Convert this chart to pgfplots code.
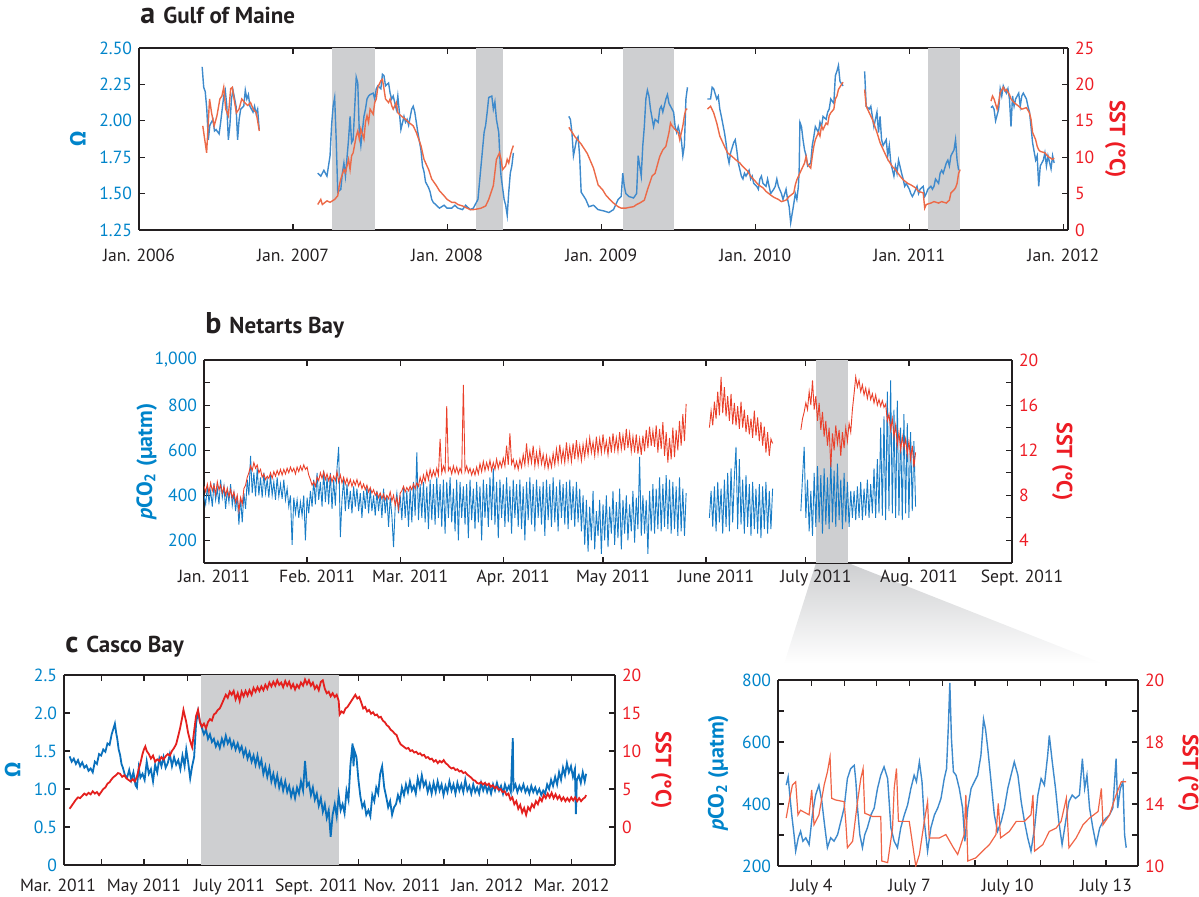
\documentclass[border=0pt]{standalone}
\usepackage{fontspec}
\setmainfont{PT Sans}
\newfontfamily\grk{Fira Sans}
\usepackage{pgfplots}
\pgfplotsset{compat=1.18}
\definecolor{tickBlue}{RGB}{0,132,202}
\definecolor{tickRed}{RGB}{237,28,36}
\definecolor{ink}{RGB}{35,31,32}
\definecolor{aBlue}{RGB}{62,138,204}
\definecolor{aOrange}{RGB}{236,106,72}
\definecolor{bBlue}{RGB}{24,124,198}
\definecolor{bRed}{RGB}{234,64,42}
\definecolor{cBlue}{RGB}{10,112,188}
\definecolor{cRed}{RGB}{228,32,30}
\definecolor{iRed}{RGB}{240,100,70}
\definecolor{shade}{RGB}{206,207,209}

\pgfplotsset{
  panel/.style={scale only axis, anchor=south west, unbounded coords=jump,
    axis line style={ink, line width=0.8pt},
    tick style={ink, line width=0.6pt}, tick align=inside,
    major tick length=3pt, minor tick length=3pt,
    tick label style={font=\fontsize{8.8}{10}\selectfont},
    x tick label style={text=ink},
    label style={font=\fontsize{11}{12}\selectfont\bfseries}},
  lefty/.style={panel, axis y line*=left, y tick label style={text=tickBlue},
    ylabel style={text=tickBlue}},
  righty/.style={panel, axis y line*=right, axis x line=none,
    y tick label style={text=tickRed}, ylabel style={text=tickRed, rotate=180}},
}

\begin{document}
\begin{tikzpicture}
\useasboundingbox (0,0) rectangle (599.5pt,448pt);

% zoom wedge from panel b down to the inset
\shade[top color=shade, bottom color=white] (408pt,166.5pt) -- (424pt,166.5pt) -- (552pt,116pt) -- (392pt,116pt) -- cycle;

% titles
\node[anchor=base west, text=ink, inner sep=0] at (70pt,436pt) {{\fontsize{15}{15}\selectfont\bfseries a}\hspace{4pt}{\fontsize{11.5}{12}\selectfont\bfseries Gulf of Maine}};
\node[anchor=base west, text=ink, inner sep=0] at (102.5pt,281pt) {{\fontsize{15}{15}\selectfont\bfseries b}\hspace{4pt}{\fontsize{11.5}{12}\selectfont\bfseries Netarts Bay}};
\node[anchor=base west, text=ink, inner sep=0] at (32.5pt,122pt) {{\fontsize{15}{15}\selectfont\bfseries c}\hspace{4pt}{\fontsize{11.5}{12}\selectfont\bfseries Casco Bay}};

% ---------------- panel a ----------------
\begin{axis}[lefty, at={(69.5pt,333pt)}, width=464.5pt, height=91pt,
  axis line style={line width=1pt},
  xmin=2006, xmax=2012.03, ymin=1.25, ymax=2.5,
  xtick={2006,2007,2008,2009,2010,2011,2012},
  xticklabels={Jan. 2006,Jan. 2007,Jan. 2008,Jan. 2009,Jan. 2010,Jan. 2011,Jan. 2012},
  x tick label style={yshift=-6pt},
  ytick={1.25,1.5,1.75,2,2.25,2.5}, yticklabels={1.25,1.50,1.75,2.00,2.25,2.50},
  ylabel={{\grk\bfseries Ω}}]
\addplot[fill=shade, draw=none, forget plot] coordinates {(2007.25,1.25) (2007.53,1.25) (2007.53,2.5) (2007.25,2.5)} -- cycle;
\addplot[fill=shade, draw=none, forget plot] coordinates {(2008.19,1.25) (2008.36,1.25) (2008.36,2.5) (2008.19,2.5)} -- cycle;
\addplot[fill=shade, draw=none, forget plot] coordinates {(2009.14,1.25) (2009.47,1.25) (2009.47,2.5) (2009.14,2.5)} -- cycle;
\addplot[fill=shade, draw=none, forget plot] coordinates {(2011.12,1.25) (2011.33,1.25) (2011.33,2.5) (2011.12,2.5)} -- cycle;
\addplot[aBlue, line width=0.7pt] coordinates {
(2006.41,2.37) (2006.42,2.23) (2006.43,2.20) (2006.44,2.08) (2006.45,1.87) (2006.46,1.97) (2006.48,2.01) (2006.49,1.93) (2006.50,1.94) (2006.52,1.91) (2006.53,1.99) (2006.54,2.08) (2006.55,2.17) (2006.56,2.21) (2006.57,2.10) (2006.58,1.87) (2006.59,1.97) (2006.60,2.15) (2006.61,2.21) (2006.63,2.10) (2006.64,1.87) (2006.65,2.01) (2006.66,2.08) (2006.68,2.10) (2006.69,2.21) (2006.70,2.15) (2006.71,2.18) (2006.72,2.10) (2006.74,2.06) (2006.75,2.10) (2006.76,2.05) (2006.77,2.08) (2006.78,1.94)
(2006.9,nan)
(2007.16,1.64) (2007.18,1.62) (2007.20,1.66) (2007.22,1.62) (2007.24,1.76) (2007.25,1.97) (2007.26,2.10) (2007.27,2.16) (2007.28,1.87) (2007.29,1.51) (2007.31,1.53) (2007.32,1.64) (2007.33,1.71) (2007.34,1.62) (2007.36,1.87) (2007.37,2.03) (2007.38,1.85) (2007.39,1.87) (2007.41,2.30) (2007.42,2.26) (2007.43,1.92) (2007.44,1.83) (2007.46,2.03) (2007.47,2.08) (2007.48,2.15) (2007.49,2.17) (2007.50,2.18) (2007.52,2.19) (2007.53,2.15) (2007.54,2.22) (2007.55,2.24) (2007.57,2.22) (2007.58,2.32) (2007.59,2.31) (2007.60,2.24) (2007.62,2.26) (2007.63,2.19) (2007.64,2.15) (2007.65,2.17) (2007.67,2.08) (2007.68,2.17) (2007.69,2.06) (2007.70,1.94) (2007.72,2.03) (2007.73,1.99) (2007.74,2.01) (2007.75,1.97) (2007.77,2.08) (2007.78,2.10) (2007.79,2.06) (2007.80,1.99) (2007.81,1.92) (2007.83,1.80) (2007.84,1.69) (2007.85,1.65) (2007.86,1.58) (2007.88,1.54) (2007.89,1.51) (2007.90,1.46) (2007.91,1.44) (2007.93,1.42) (2007.95,1.40) (2007.98,1.42) (2008.00,1.40) (2008.03,1.40) (2008.05,1.42) (2008.07,1.40) (2008.10,1.39) (2008.12,1.42) (2008.15,1.39) (2008.17,1.40) (2008.20,1.46) (2008.22,1.69) (2008.24,1.92) (2008.25,1.97) (2008.26,2.06) (2008.27,2.16) (2008.29,2.17) (2008.30,2.08) (2008.31,2.13) (2008.32,2.01) (2008.335,1.92) (2008.345,1.69) (2008.35,1.62) (2008.37,1.46) (2008.38,1.42) (2008.39,1.35) (2008.40,1.51) (2008.41,1.64) (2008.42,1.69) (2008.43,1.78)
(2008.6,nan)
(2008.79,2.03) (2008.80,2.01) (2008.81,1.92) (2008.82,1.76) (2008.84,1.87) (2008.85,1.89) (2008.86,1.76) (2008.87,1.51) (2008.90,1.46) (2008.92,1.41) (2008.95,1.42) (2008.98,1.39) (2009.02,1.38) (2009.05,1.37) (2009.08,1.39) (2009.11,1.46) (2009.13,1.48) (2009.14,1.64) (2009.15,1.55) (2009.16,1.50) (2009.18,1.48) (2009.21,1.47) (2009.23,1.50) (2009.24,1.76) (2009.26,1.62) (2009.27,1.83) (2009.28,1.96) (2009.29,2.15) (2009.30,2.21) (2009.31,2.17) (2009.32,2.08) (2009.34,1.96) (2009.35,2.01) (2009.37,1.99) (2009.38,2.08) (2009.39,2.10) (2009.40,2.06) (2009.42,2.15) (2009.43,2.18) (2009.44,2.12) (2009.45,2.10) (2009.47,2.06) (2009.48,1.96) (2009.49,1.92) (2009.50,1.96) (2009.52,1.87) (2009.53,1.76) (2009.54,1.83) (2009.55,2.15) (2009.56,2.23)
(2009.62,nan)
(2009.69,2.15) (2009.71,2.15) (2009.72,2.23) (2009.73,2.22) (2009.75,2.15) (2009.76,2.17) (2009.77,2.08) (2009.78,2.03) (2009.80,1.92) (2009.81,1.85) (2009.82,1.76) (2009.83,1.71) (2009.84,1.78) (2009.86,1.85) (2009.87,1.87) (2009.88,1.80) (2009.89,1.71) (2009.91,1.62) (2009.92,1.60) (2009.93,1.64) (2009.94,1.62) (2009.96,1.66) (2009.97,1.60) (2009.98,1.62) (2009.99,1.57) (2010.01,1.55) (2010.02,1.53) (2010.03,1.60) (2010.04,1.62) (2010.05,1.57) (2010.07,1.55) (2010.08,1.60) (2010.09,1.55) (2010.10,1.50) (2010.12,1.53) (2010.13,1.55) (2010.14,1.60) (2010.15,1.55) (2010.17,1.50) (2010.18,1.46) (2010.20,1.53) (2010.21,1.46) (2010.22,1.41) (2010.23,1.30) (2010.25,1.43) (2010.26,1.50) (2010.27,1.46) (2010.28,1.55) (2010.285,1.66) (2010.29,1.99) (2010.30,1.96) (2010.31,1.87) (2010.32,1.80) (2010.33,1.76) (2010.34,1.69) (2010.36,1.71) (2010.37,1.83) (2010.38,1.89) (2010.39,1.96) (2010.41,1.92) (2010.42,1.99) (2010.43,1.96) (2010.44,2.03) (2010.46,2.01) (2010.47,2.06) (2010.48,2.08) (2010.49,2.15) (2010.51,2.12) (2010.52,2.31) (2010.53,2.34) (2010.54,2.38) (2010.55,2.27) (2010.57,2.24)
(2010.64,nan)
(2010.71,2.34) (2010.715,2.22) (2010.72,2.10) (2010.74,2.08) (2010.75,2.10) (2010.76,2.03) (2010.77,1.96) (2010.79,2.06) (2010.80,1.92) (2010.81,2.03) (2010.82,1.87) (2010.83,1.83) (2010.85,1.87) (2010.86,1.76) (2010.87,1.83) (2010.88,1.71) (2010.90,1.62) (2010.91,1.69) (2010.92,1.64) (2010.93,1.73) (2010.95,1.64) (2010.96,1.60) (2010.97,1.55) (2010.98,1.57) (2011.00,1.53) (2011.01,1.50) (2011.02,1.48) (2011.03,1.50) (2011.05,1.55) (2011.06,1.50) (2011.07,1.53) (2011.09,1.55) (2011.10,1.48) (2011.11,1.50) (2011.12,1.53) (2011.14,1.55) (2011.15,1.53) (2011.16,1.55) (2011.17,1.60) (2011.19,1.57) (2011.20,1.64) (2011.21,1.66) (2011.22,1.64) (2011.24,1.71) (2011.25,1.73) (2011.26,1.69) (2011.27,1.76) (2011.29,1.80) (2011.30,1.87) (2011.31,1.73) (2011.32,1.66)
(2011.42,nan)
(2011.53,2.09) (2011.54,2.10) (2011.55,2.08) (2011.56,2.00) (2011.58,2.08) (2011.59,2.22) (2011.60,2.17) (2011.61,2.24) (2011.63,2.19) (2011.64,2.22) (2011.65,2.15) (2011.66,1.96) (2011.67,2.17) (2011.68,2.10) (2011.69,2.15) (2011.71,2.19) (2011.72,2.10) (2011.73,2.17) (2011.74,2.19) (2011.76,2.15) (2011.77,2.10) (2011.78,2.06) (2011.79,1.96) (2011.80,1.85) (2011.82,1.73) (2011.83,1.76) (2011.84,1.55) (2011.85,1.69) (2011.87,1.73) (2011.88,1.78) (2011.89,1.69) (2011.90,1.76) (2011.92,1.67) (2011.93,1.76) (2011.94,1.71)
};
\end{axis}
\begin{axis}[righty, at={(69.5pt,333pt)}, width=464.5pt, height=91pt,
  axis line style={line width=1pt},
  xmin=2006, xmax=2012.03, ymin=0, ymax=25,
  ytick={0,5,10,15,20,25}, yticklabels={0,5,10,15,20,25},
  ylabel={SST (°C)}, ylabel shift=-1.5pt]
\addplot[aOrange, line width=0.7pt] coordinates {
(2006.414,14.3) (2006.439,10.6) (2006.458,18.0) (2006.471,16.1) (2006.488,14.3) (2006.506,15.7) (2006.525,18.0) (2006.538,18.4) (2006.550,19.6) (2006.563,16.6) (2006.580,15.7) (2006.595,19.4) (2006.605,19.6) (2006.617,18.0) (2006.632,16.1) (2006.649,16.6) (2006.667,18.0) (2006.686,17.5) (2006.706,17.1) (2006.724,17.5) (2006.741,16.6) (2006.761,16.1) (2006.781,13.6)
(2006.9,nan)
(2007.16,3.5) (2007.18,4.2) (2007.19,3.5) (2007.22,4.0) (2007.24,3.8) (2007.27,4.2) (2007.29,4.7) (2007.30,6.1) (2007.31,7.0) (2007.33,8.3) (2007.34,7.9) (2007.36,9.7) (2007.37,8.3) (2007.38,10.2) (2007.39,10.6) (2007.41,12.9) (2007.42,13.6) (2007.43,12.5) (2007.44,13.9) (2007.46,12.5) (2007.47,14.8) (2007.48,15.7) (2007.49,14.8) (2007.50,16.6) (2007.52,15.9) (2007.53,17.5) (2007.54,18.0) (2007.55,19.6) (2007.57,20.5) (2007.58,20.7) (2007.59,19.4) (2007.60,18.0) (2007.62,17.5) (2007.63,18.0) (2007.64,17.1) (2007.65,16.6) (2007.67,17.5) (2007.68,16.1) (2007.70,15.7) (2007.73,15.2) (2007.75,14.8) (2007.78,14.3) (2007.80,13.4) (2007.83,11.6) (2007.85,9.7) (2007.88,8.3) (2007.90,7.0) (2007.93,6.1) (2007.95,5.4) (2007.98,4.7) (2008.00,4.2) (2008.03,3.8) (2008.05,3.8) (2008.07,3.5) (2008.10,3.3) (2008.12,3.1) (2008.15,2.8) (2008.17,2.8) (2008.20,2.9) (2008.22,3.0) (2008.25,3.3) (2008.27,4.2) (2008.30,6.1) (2008.32,9.7) (2008.34,10.6) (2008.35,9.7) (2008.36,8.3) (2008.38,8.8) (2008.39,9.7) (2008.40,9.2) (2008.41,10.2) (2008.42,11.0) (2008.43,11.6)
(2008.6,nan)
(2008.79,14.1) (2008.83,12.8) (2008.87,11.8) (2008.91,10.5) (2008.95,8.5) (2008.98,6.2) (2009.01,5.5) (2009.03,4.8) (2009.06,4.1) (2009.08,3.7) (2009.11,3.2) (2009.13,3.0) (2009.16,3.0) (2009.18,3.1) (2009.21,3.2) (2009.23,3.5) (2009.25,3.7) (2009.28,4.1) (2009.30,5.5) (2009.33,7.4) (2009.35,7.8) (2009.38,10.1) (2009.40,11.0) (2009.42,11.5) (2009.44,13.4) (2009.45,14.7) (2009.46,14.3) (2009.48,13.8) (2009.50,13.4) (2009.51,12.4) (2009.53,14.3) (2009.54,15.7) (2009.55,16.6) (2009.56,16.6)
(2009.62,nan)
(2009.69,16.6) (2009.71,17.0) (2009.73,16.1) (2009.75,14.7) (2009.77,12.9) (2009.80,11.5) (2009.82,10.6) (2009.85,10.1) (2009.87,9.7) (2009.90,9.2) (2009.92,8.7) (2009.95,8.1) (2009.97,7.4) (2010.00,6.7) (2010.02,6.2) (2010.05,5.8) (2010.07,5.3) (2010.10,4.8) (2010.12,4.5) (2010.15,4.2) (2010.17,3.9) (2010.20,4.1) (2010.22,4.6) (2010.25,5.1) (2010.26,6.2) (2010.27,6.9) (2010.30,8.3) (2010.32,9.2) (2010.33,10.1) (2010.34,9.0) (2010.36,8.5) (2010.37,10.1) (2010.38,11.5) (2010.39,12.4) (2010.41,13.4) (2010.42,12.9) (2010.43,14.3) (2010.44,13.8) (2010.46,14.7) (2010.47,14.5) (2010.48,15.7) (2010.49,16.1) (2010.51,16.6) (2010.52,18.0) (2010.53,18.4) (2010.54,19.3) (2010.56,20.0) (2010.57,20.3)
(2010.64,nan)
(2010.71,19.3) (2010.72,17.0) (2010.74,16.1) (2010.76,15.2) (2010.79,13.4) (2010.81,12.0) (2010.84,10.6) (2010.86,9.7) (2010.89,8.7) (2010.91,8.3) (2010.94,7.4) (2010.96,6.9) (2010.99,6.4) (2011.01,6.2) (2011.04,5.8) (2011.06,5.3) (2011.09,5.1) (2011.10,3.0) (2011.11,3.5) (2011.14,3.7) (2011.16,3.9) (2011.19,3.7) (2011.21,3.9) (2011.24,3.7) (2011.26,4.1) (2011.27,5.1) (2011.29,5.5) (2011.30,5.8) (2011.31,6.4) (2011.32,7.8) (2011.33,8.3)
(2011.42,nan)
(2011.53,17.7) (2011.54,18.4) (2011.55,18.0) (2011.57,16.6) (2011.58,17.5) (2011.59,18.9) (2011.61,19.6) (2011.62,19.1) (2011.63,19.3) (2011.65,18.6) (2011.66,18.0) (2011.68,17.5) (2011.71,17.0) (2011.73,16.6) (2011.76,16.8) (2011.78,16.1) (2011.79,15.2) (2011.80,13.4) (2011.82,12.4) (2011.83,11.5) (2011.84,11.0) (2011.85,10.8) (2011.88,10.6) (2011.90,10.1) (2011.93,9.7) (2011.94,9.9)
};
\end{axis}

% ---------------- panel b ----------------
\begin{axis}[lefty, at={(102pt,166.5pt)}, width=404pt, height=101.5pt,
  xmin=0, xmax=243, ymin=100, ymax=1000,
  xtick={0,31,59,90,120,151,181,212,243},
  xticklabels={Jan. 2011,Feb. 2011,Mar. 2011,Apr. 2011,May 2011,June 2011,July 2011,Aug. 2011,Sept. 2011},
  x tick label style={xshift=5pt},
  ytick={200,400,600,800,1000}, yticklabels={200,400,600,800,{1,000}},
  minor ytick={300,500,700,900},
  ylabel={\textit{p}CO\textsubscript{2} (µatm)}, ylabel shift=-8pt]
\addplot[fill=shade, draw=none, forget plot] coordinates {(184,100) (193.7,100) (193.7,1000) (184,1000)} -- cycle;
\addplot[bBlue, line width=0.45pt] coordinates {
(0,400) (0.5,360) (1,440) (1.5,370) (2,420) (2.5,350) (3,455) (3.5,380) (4,430) (4.5,360) (5,470) (5.5,390) (6,440) (6.5,340) (7,425) (7.5,370) (8,450) (8.5,355) (9,410) (9.5,330) (10,400) (10.5,270) (11,390) (11.5,280) (12,410) (12.5,340) (13,470)
(13.5,400) (14,575) (14.5,410) (15,500) (15.5,395) (16,520) (16.5,400) (17,480) (17.5,390) (18,500) (18.5,410) (19,470) (19.5,390) (20,490) (20.5,400) (21,460) (21.5,380) (22,480) (22.5,395) (23,450) (23.5,385) (24,470) (24.5,380) (25,430) (25.5,350)
(26,400) (26.5,180) (27,390) (27.5,320) (28,380) (28.5,300) (29,370) (29.5,310) (30,400) (30.5,200) (31,390) (31.5,320) (32,420)
(32.5,350) (33,470) (33.5,360) (34,500) (34.5,380) (35,460) (35.5,350) (36,510) (36.5,370) (37,480) (37.5,360) (38,500) (38.5,340) (39,470) (39.5,355) (40,520) (40.5,615) (41,215) (41.5,380) (42,470)
(42.5,330) (43,450) (43.5,340) (44,420) (44.5,320) (45,440) (45.5,350) (46,430) (46.5,330) (47,410) (47.5,300) (48,420) (48.5,340) (49,440) (49.5,320) (50,430) (50.5,330) (51,400) (51.5,310) (52,420) (52.5,330) (53,410) (53.5,300) (54,430) (54.5,320) (55,400) (55.5,260) (56,390) (56.5,310) (57,170) (57.5,350) (58,410) (58.5,320) (59,400)
(59.5,290) (60,440) (60.5,300) (61,420) (61.5,260) (62,430) (62.5,280) (63,460) (63.5,310) (64,590) (64.5,290) (65,450) (65.5,300) (66,460) (66.5,280) (67,440) (67.5,250) (68,470) (68.5,290) (69,450) (69.5,270) (70,480) (70.5,300) (71,450) (71.5,260) (72,470) (72.5,230) (73,460) (73.5,300) (74,480) (74.5,280) (75,430) (75.5,240) (76,470) (76.5,200) (77,460) (77.5,300) (78,440) (78.5,270) (79,450) (79.5,210) (80,470) (80.5,290) (81,430) (81.5,250) (82,460) (82.5,280) (83,440) (83.5,200) (84,470) (84.5,300) (85,450) (85.5,260) (86,480) (86.5,290) (87,520) (87.5,270) (88,460) (88.5,210) (89,470) (89.5,300) (90,450) (90.5,260) (91,480) (91.5,280) (92,440) (92.5,230) (93,470) (93.5,300) (94,450) (94.5,260) (95,470) (95.5,250) (96,440) (96.5,200) (97,460) (97.5,290) (98,480) (98.5,270) (99,450) (99.5,240) (100,470) (100.5,300) (101,440) (101.5,270) (102,460) (102.5,220) (103,470) (103.5,290) (104,450) (104.5,260) (105,480) (105.5,280) (106,440) (106.5,240) (107,470) (107.5,300) (108,450) (108.5,270) (109,460) (109.5,250) (110,470) (110.5,290) (111,440) (111.5,260) (112,460) (112.5,280) (113,430) (113.5,240) (114,400)
(114.5,180) (115,380) (115.5,150) (116,350) (116.5,200) (117,420) (117.5,160) (118,330) (118.5,220) (119,380) (119.5,140) (120,360) (120.5,200) (121,400) (121.5,170) (122,350) (122.5,230) (123,420) (123.5,180) (124,370) (124.5,210) (125,430) (125.5,160) (126,380) (126.5,230) (127,400) (127.5,200) (128,360) (128.5,240) (129,420) (129.5,190) (130,390) (130.5,250) (131,570) (131.5,220) (132,400) (132.5,230) (133,380) (133.5,140) (134,420) (134.5,240) (135,450) (135.5,230) (136,430) (136.5,250) (137,480) (137.5,240) (138,450) (138.5,260) (139,490) (139.5,250) (140,470) (140.5,230) (141,460) (141.5,250) (142,440) (142.5,220) (143,480) (143.5,240) (144,430) (144.5,220) (145,410)
(148,nan)
(152,300) (152.5,420) (153,260) (153.5,440) (154,240) (154.5,460) (155,280) (155.5,430) (156,230) (156.5,470) (157,260) (157.5,500) (158,240) (158.5,520) (159,280) (159.5,480) (160,615) (160.5,250) (161,560) (161.5,270) (162,470) (162.5,230) (163,490) (163.5,260) (164,450) (164.5,220) (165,460) (165.5,250) (166,430) (166.5,230) (167,450) (167.5,210) (168,440) (168.5,250) (169,460) (169.5,230) (170,420) (170.5,250) (171,430)
(175,nan)
(179.5,330) (180,480) (180.5,615) (181,300) (181.5,470) (182,240) (182.5,420) (183,220) (183.5,500) (184,260) (184.5,530) (185,280) (185.5,490) (186,230) (186.5,520) (187,270) (187.5,480) (188,250) (188.5,560) (189,280) (189.5,510) (190,260) (190.5,540) (191,290) (191.5,470) (192,250) (192.5,500) (193,280) (193.5,460) (194,260) (194.5,420) (195,300)
(195.5,420) (196,290) (196.5,440) (197,300) (197.5,460) (198,290) (198.5,430) (199,310) (199.5,470) (200,300) (200.5,450) (201,320) (201.5,520) (202,300) (202.5,560) (203,320) (203.5,700) (204,310) (204.5,750) (205,290) (205.5,860) (206,330) (206.5,910) (207,320) (207.5,780) (208,300) (208.5,820) (209,310) (209.5,700) (210,290) (210.5,760) (211,320) (211.5,720) (212,300) (212.5,680) (213,330) (213.5,640) (214,350)
};
\end{axis}
\begin{axis}[righty, at={(102pt,166.5pt)}, width=404pt, height=101.5pt,
  xmin=0, xmax=243, ymin=2, ymax=20,
  ytick={4,8,12,16,20}, yticklabels={4,8,12,16,20}, minor ytick={6,10,14,18},
  ylabel={SST (°C)}]
\addplot[bRed, line width=0.45pt] coordinates {
(0,8.8) (0.5,8.3) (1,9.0) (1.5,8.2) (2,9.1) (2.5,8.4) (3,8.9) (3.5,8.1) (4,9.2) (4.5,8.5) (5,8.9) (5.5,8.2) (6,8.8) (6.5,8.0) (7,8.6) (7.5,7.9) (8,8.5) (8.5,7.8) (9,8.3) (9.5,7.4) (10,8.0) (10.5,6.6) (11,7.8) (11.5,7.2) (12,8.6) (12.5,8.9) (13,9.6) (13.5,10.0) (14,10.6) (14.5,10.2) (15,10.9) (15.5,10.4) (16,10.7) (16.5,10.0) (17,10.3) (17.5,9.6) (18,9.9) (18.5,9.4) (19,9.7) (19.5,9.5) (20,10.0) (20.5,9.5) (21,10.1) (21.5,9.7) (22,10.2) (22.5,9.8) (23,10.3) (23.5,9.8) (24,10.3) (24.5,9.9) (25,10.4) (25.5,10.0) (26,10.5) (26.5,10.1) (27,10.4) (27.5,9.9) (28,10.5) (28.5,10.1) (29,10.6) (29.5,10.2) (30,10.7) (30.5,10.3) (31,10.5) (31.5,9.8) (32,9.4) (32.5,8.9) (33,9.2) (33.5,8.8) (34,9.6) (34.5,9.3) (35,10.0) (35.5,9.5) (36,10.1) (36.5,9.4) (37,9.9) (37.5,9.3) (38,9.8) (38.5,9.2) (39,9.7) (39.5,9.3) (40,10.1) (40.5,9.2) (41,9.8) (41.5,9.1) (42,9.6) (42.5,9.0) (43,9.5) (43.5,8.9) (44,9.4) (44.5,8.8) (45,9.3) (45.5,8.9) (46,9.4) (46.5,8.8) (47,9.2) (47.5,8.6) (48,9.0) (48.5,8.5) (49,8.9) (49.5,8.3) (50,8.7) (50.5,8.2) (51,8.5) (51.5,8.0) (52,8.3) (52.5,7.8) (53,8.2) (53.5,7.7) (54,8.1) (54.5,7.6) (55,8.0) (55.5,7.7) (56,8.3) (56.5,7.5) (57,8.0) (57.5,7.1) (58,7.8) (58.5,6.8) (59,8.2) (59.5,8.4)
(60,8.8) (60.5,8.3) (61,8.7) (61.5,8.4) (62,8.8) (62.5,8.5) (63,9.0) (63.5,8.6) (64,9.1) (64.5,8.8) (65,9.6) (65.5,9.0) (66,9.8) (66.5,9.2) (67,10.1) (67.5,9.4) (68,10.3) (68.5,9.6) (69,10.2) (69.5,9.7) (70,10.4) (70.5,9.8) (71,13.0) (71.5,10.0) (72,10.6) (72.5,10.1) (73,15.9) (73.5,10.2) (74,10.5) (74.5,9.9) (75,10.6) (75.5,10.0) (76,10.5) (76.5,9.9) (77,10.4) (77.5,10.0) (78,17.8) (78.5,10.1) (79,10.6) (79.5,10.0) (80,10.4) (80.5,9.8) (81,10.3) (81.5,9.8) (82,10.5) (82.5,9.9) (83,10.8) (83.5,10.1) (84,11.0) (84.5,10.2) (85,10.9) (85.5,10.3) (86,11.1) (86.5,10.2) (87,10.9) (87.5,10.3) (88,11.2) (88.5,10.4) (89,11.0) (89.5,10.5) (90,11.3) (90.5,10.6) (91,12.4) (91.5,10.7) (92,13.5) (92.5,10.8) (93,11.2) (93.5,10.4) (94,11.0) (94.5,10.3) (95,11.2) (95.5,10.5) (96,11.6) (96.5,10.7) (97,12.6) (97.5,10.8) (98,11.9) (98.5,10.9) (99,12.4) (99.5,10.6) (100,11.8) (100.5,10.7) (101,12.1) (101.5,10.8) (102,11.6) (102.5,10.5) (103,11.5) (103.5,10.4) (104,11.3) (104.5,10.5) (105,11.7) (105.5,10.7) (106,12.1) (106.5,10.9) (107,12.5) (107.5,11.0) (108,12.0) (108.5,10.9) (109,12.7) (109.5,11.1) (110,12.3) (110.5,11.0) (111,12.6) (111.5,11.2) (112,12.9) (112.5,11.3) (113,12.4) (113.5,11.1) (114,12.5) (114.5,11.4) (115,12.8) (115.5,11.6) (116,13.1) (116.5,11.8) (117,12.7) (117.5,11.5) (118,13.2) (118.5,11.7) (119,13.0) (119.5,11.8) (120,13.4) (120.5,11.9) (121,12.8) (121.5,11.6) (122,13.2) (122.5,11.8) (123,13.5) (123.5,12.0) (124,13.1) (124.5,11.9) (125,13.6) (125.5,12.1) (126,13.3) (126.5,12.0) (127,13.9) (127.5,12.2) (128,13.5) (128.5,11.9) (129,13.2) (129.5,11.8) (130,13.4) (130.5,11.7) (131,13.0) (131.5,11.6) (132,13.3) (132.5,11.9) (133,13.8) (133.5,12.2) (134,14.1) (134.5,12.4) (135,13.7) (135.5,12.3) (136,14.2) (136.5,11.8) (137,13.9) (137.5,12.1) (138,14.5) (138.5,11.5) (139,13.6) (139.5,10.9) (140,13.1) (140.5,11.2) (141,14.0) (141.5,11.4) (142,13.8) (142.5,12.0) (143,14.6) (143.5,12.4) (144,15.2) (144.5,12.8) (145,16.1)
(148,nan)
(152,14.0) (152.5,15.5) (153,14.2) (153.5,16.3) (154,14.8) (154.5,17.2) (155,15.1) (155.5,18.5) (156,15.3) (156.5,17.6) (157,15.0) (157.5,16.8) (158,14.6) (158.5,17.0) (159,14.3) (159.5,16.2) (160,14.2) (160.5,15.9) (161,13.9) (161.5,16.3) (162,14.0) (162.5,15.6) (163,13.6) (163.5,15.1) (164,13.4) (164.5,14.8) (165,13.1) (165.5,15.5) (166,13.3) (166.5,14.9) (167,12.8) (167.5,14.5) (168,12.4) (168.5,14.1) (169,11.8) (169.5,13.6) (170,11.5) (170.5,13.0) (171,12.6)
(175,nan)
(179.5,13.8) (180,14.8) (180.5,15.4) (181,16.2) (181.5,15.6) (182,17.2) (182.5,16.0) (183,18.2) (183.5,15.6) (184,16.8) (184.5,14.6) (185,16.2) (185.5,13.8) (186,15.4) (186.5,13.2) (187,14.6) (187.5,12.4) (188,14.0) (188.5,10.5) (189,13.5) (189.5,12.0) (190,14.2) (190.5,12.6) (191,13.8) (191.5,11.5) (192,13.6) (192.5,12.2) (193,14.0) (193.5,12.8) (194,14.4) (194.5,13.6) (195,15.6) (195.5,17.0) (196,18.5) (196.5,17.6) (197,18.2) (197.5,17.2) (198,17.8) (198.5,16.9) (199,17.5) (199.5,16.6) (200,17.4) (200.5,16.5) (201,17.0) (201.5,16.2) (202,16.9) (202.5,16.0) (203,16.5) (203.5,15.9) (204,16.4) (204.5,15.8) (205,16.1) (205.5,14.6) (206,15.2) (206.5,13.8) (207,14.8) (207.5,13.2) (208,14.2) (208.5,12.4) (209,13.6) (209.5,12.0) (210,13.2) (210.5,12.2) (211,13.0) (211.5,11.6) (212,12.8) (212.5,11.2) (213,12.4) (213.5,10.5) (214,11.8)
};
\end{axis}

% ---------------- panel c, left ----------------
\begin{axis}[lefty, at={(32pt,15.5pt)}, width=275.5pt, height=95pt,
  xmin=4, xmax=397, ymin=0, ymax=2.5,
  xtick={4,61,122,184,245,306,366},
  xticklabels={\makebox[0pt]{Mar. 2011\hspace{6pt}},May 2011,July 2011,Sept. 2011,Nov. 2011,Jan. 2012,Mar. 2012},
  x tick label style={yshift=-3.5pt},
  minor xtick={31,92,153,214,275,337,397},
  ytick={0,0.5,1,1.5,2,2.5}, yticklabels={0,0.5,1.0,1.5,2.0,2.5},
  ylabel={{\grk\bfseries Ω}}]
\addplot[fill=shade, draw=none, forget plot] coordinates {(102,0) (200,0) (200,2.5) (102,2.5)} -- cycle;
\addplot[cBlue, line width=0.9pt] coordinates {
(8,1.43) (9.5,1.36) (11,1.40) (12.5,1.33) (14,1.38) (15.5,1.30) (17,1.35) (18.5,1.28) (20,1.31) (21.5,1.24) (23,1.27) (24.5,1.22) (26,1.36) (27.5,1.33) (29,1.46) (30.5,1.44) (32,1.52) (33.5,1.49) (35,1.60) (36.5,1.58) (38,1.72) (39,1.78) (40.3,1.86) (41.2,1.74) (42,1.66) (43,1.52) (44,1.45) (45,1.33) (46,1.28) (47.5,1.18) (49,1.15) (50.5,1.25) (52,1.12) (53.5,1.22) (55,1.05) (56,1.02) (57.3,1.28) (58.5,1.15) (60,1.20) (61.5,1.12) (63,1.36) (64.5,1.20) (66,1.26) (67.5,1.10) (69,1.32) (70.5,1.22) (72,1.40) (73.5,1.30) (75,1.42) (76.5,1.28) (78,1.34) (79.5,1.46) (81,1.30) (82.5,1.42) (84,1.32) (85.5,1.38) (87,1.26) (88.5,1.44) (90,1.30) (91.2,1.52) (92.5,1.36) (94,1.14) (95.4,1.30) (96.8,1.42) (98.2,1.86) (99.6,2.02) (101,1.88) (102.4,1.80) (103.8,1.72) (105.3,1.78) (106.7,1.66) (108.1,1.72) (109.5,1.62) (110.9,1.66) (112.3,1.56) (113.7,1.62) (115.1,1.54) (116.6,1.66) (118,1.58) (119.4,1.70) (120.8,1.60) (122.2,1.66) (123.6,1.55) (125,1.62) (126.4,1.52) (127.9,1.60) (129.3,1.50) (130.7,1.56) (132.1,1.44) (133.5,1.52) (134.9,1.40) (136.3,1.48) (137.8,1.36) (139.2,1.44) (140.6,1.32) (142,1.44) (143.4,1.30) (144.8,1.38) (146.2,1.20) (147.6,1.30) (149,1.16) (150.5,1.28) (151.9,1.10) (153.3,1.20) (154.7,1.06) (156.1,1.18) (157.5,1.02) (158.9,1.12) (160.3,0.98) (161.8,1.10) (163.2,0.96) (164.6,1.04) (166,0.90) (167.4,1.00) (168.8,0.88) (170.2,1.02) (171.6,0.94) (173,1.10) (174.5,0.98) (175.9,1.37) (177.3,1.04) (178.7,1.08) (180.1,0.92) (181.5,1.02) (182.9,0.86) (184.3,0.94) (185.7,0.78) (187.2,0.88) (188.6,0.70) (190,0.80) (191.4,0.62) (192.8,0.72) (194.2,0.37) (195.6,0.66) (197.1,0.80) (198.5,0.64) (199.9,0.92) (201.3,0.72) (202.7,0.80) (204.1,0.68) (205.5,0.98) (206.9,0.86) (208.3,1.32) (209.8,1.60) (210.5,1.30) (211.2,1.50) (212.6,1.42) (214,1.12) (215.4,0.90) (216.8,0.76) (218.2,0.82) (219.6,0.66) (221.1,0.72) (222.5,0.64) (223.9,0.92) (225.3,0.84) (226.7,1.02) (228.1,0.94) (229.5,1.20) (230.9,1.30) (232.4,1.02) (233.8,0.90) (235.2,0.76) (236.6,0.84) (238,0.66) (239.4,0.76) (240.8,0.80) (242.2,0.92) (243.6,0.84) (245,1.02) (246.5,0.92) (247.9,1.06) (249.3,0.96) (250.7,1.10) (252.1,0.98) (253.5,1.04) (254.9,0.94) (256.3,1.14) (257.8,1.02) (259.2,1.18) (260.6,1.04) (262,1.10) (263.4,0.96) (264.8,1.06) (266.2,0.94) (267.6,1.08) (269.1,0.96) (270.5,1.10) (271.9,0.98) (273.3,1.06) (274.7,0.92) (276.1,1.04) (277.5,0.96) (278.9,1.10) (280.4,0.98) (281.8,1.06) (283.2,0.94) (284.6,1.08) (286,0.98) (287.4,1.06) (288.8,0.96) (290.2,1.12) (291.7,0.98) (293.1,1.04) (294.5,0.94) (295.9,1.06) (297.3,0.96) (298.7,1.02) (300.1,0.94) (301.5,1.08) (303,0.98) (304.4,1.06) (305.8,0.96) (307.2,1.04) (308.6,0.94) (310,1.06) (311.4,0.98) (312.8,1.08) (314.3,0.98) (315.7,1.04) (317.1,0.94) (318.5,1.06) (319.9,0.98) (321.3,1.04) (322.7,0.96) (324.1,1.67) (324.6,1.00) (326,1.06) (327.4,0.96) (328.8,1.04) (330.2,0.98) (331.7,1.06) (333.1,0.96) (334.5,1.02) (335.9,0.94) (337.3,1.04) (338.7,0.96) (340.1,1.02) (341.5,0.94) (343,1.00) (344.4,0.92) (345.8,0.98) (347.2,0.94) (348.6,1.06) (350,1.00) (351.4,1.12) (352.8,1.04) (354.3,1.16) (355.7,1.06) (357.1,1.22) (358.5,1.12) (359.9,1.28) (361.3,1.18) (362.7,1.34) (364.1,1.22) (365.6,1.30) (367,1.16) (368.4,1.26) (369.1,0.67) (369.8,1.12) (371.2,1.18) (372.6,1.08) (374,1.22) (375.4,1.10) (376.4,1.20)
};
\end{axis}
\begin{axis}[righty, at={(32pt,15.5pt)}, width=275.5pt, height=95pt,
  xmin=4, xmax=397, ymin=-5, ymax=20,
  ytick={0,5,10,15,20}, yticklabels={0,5,10,15,20},
  ylabel={SST (°C)}, ylabel shift=-2pt]
\addplot[cRed, line width=0.9pt] coordinates {
(8,2.4) (9.5,2.8) (11,3.2) (12.5,3.6) (14,3.9) (15.5,3.8) (17,4.1) (18.5,4.4) (20,4.2) (21.5,4.5) (23,4.3) (24.5,4.7) (26,4.4) (27.5,4.6) (29,4.2) (30.5,4.6) (32,5.0) (33.5,5.2) (35,5.7) (36.5,5.9) (38,6.3) (39.5,6.6) (41,6.8) (42.5,7.1) (44,7.0) (45.5,6.6) (47,6.8) (48.5,6.4) (50,6.2) (51.5,6.0) (53,6.3) (54.5,6.0) (56,6.6) (57.3,7.6) (58.5,8.4) (60,9.6) (61,10.2) (62,10.6) (63,10.0) (64.5,9.6) (66,9.0) (67.5,9.4) (69,8.6) (70.5,8.9) (72,8.7) (73.5,9.2) (75,8.9) (76.5,9.3) (78,9.6) (79.5,9.4) (81,10.0) (82.5,10.4) (84,10.9) (85.5,12.0) (86.8,13.0) (88.3,14.4) (89.2,15.4) (90.2,14.6) (91.2,13.8) (92.5,12.4) (94,11.3) (95.4,10.5) (96.8,12.6) (98.2,14.6) (99.6,15.4) (101,13.8) (102.4,13.2) (103.8,13.6) (105.3,13.0) (106.7,13.8) (108.1,14.2) (109.5,14.0) (110.9,14.8) (112.3,15.0) (113.7,15.4) (115.1,15.6) (116.6,16.2) (118,16.8) (119.4,17.4) (120.8,17.0) (122.2,17.8) (123.6,17.4) (125,17.9) (126.4,16.8) (127.9,17.6) (129.3,16.6) (130.7,17.8) (132.1,17.2) (133.5,17.9) (134.9,17.3) (136.3,18.0) (137.8,17.4) (139.2,18.3) (140.6,17.8) (142,18.4) (143.4,17.9) (144.8,18.5) (146.2,18.0) (147.6,18.7) (149,18.2) (150.5,19.0) (151.9,18.5) (153.3,19.1) (154.7,18.6) (156.1,19.3) (157.5,18.7) (158.9,19.0) (160.3,18.4) (161.8,19.2) (163.2,18.6) (164.6,19.1) (166,18.3) (167.4,18.8) (168.8,18.1) (170.2,18.7) (171.6,18.3) (173,19.0) (174.5,18.6) (175.9,19.4) (177.3,18.8) (178.7,19.3) (180.1,18.6) (181.5,19.0) (182.9,18.2) (184.3,18.6) (185.7,18.0) (187.2,19.1) (188.6,19.3) (190,18.2) (191.4,17.6) (192.8,17.8) (194.2,17.2) (195.6,17.6) (197.1,17.1) (198.5,17.4) (199.9,16.6) (200.6,14.8) (202,15.2) (203.4,15.0) (204.8,15.6) (206.2,15.8) (207.6,16.2) (209,16.6) (210.4,17.0) (211.8,17.4) (213.2,16.9) (214.6,17.1) (216,16.4) (217.4,15.6) (218.8,15.8) (220.2,15.2) (221.6,15.4) (223,14.9) (224.4,15.1) (225.8,14.7) (227.2,14.8) (228.6,14.4) (230,14.5) (231.4,14.0) (232.8,13.8) (234.2,13.4) (235.6,13.2) (237,12.8) (238.4,12.6) (239.8,12.3) (241.2,12.1) (242.6,11.4) (244,10.9) (245.4,10.7) (246.8,10.5) (248.2,10.3) (249.6,10.4) (251,10.0) (252.4,10.1) (253.8,9.8) (255.2,9.9) (256.6,9.6) (258,9.7) (259.4,9.4) (260.8,9.5) (262.2,9.1) (263.6,9.2) (265,8.9) (266.4,9.0) (267.8,8.6) (269.2,8.8) (270.6,8.4) (272,8.7) (273.4,8.5) (274.8,8.8) (276.2,8.4) (277.6,8.2) (279,7.9) (280.4,7.7) (281.8,7.8) (283.2,7.5) (284.6,7.6) (286,7.3) (287.4,7.4) (288.8,7.1) (290.2,7.2) (291.6,6.9) (293,6.7) (294.4,6.5) (295.8,6.2) (297.2,6.1) (298.6,5.8) (300,5.7) (301.4,5.9) (302.8,5.6) (304.2,5.8) (305.6,5.5) (307,5.7) (308.4,5.3) (309.8,5.5) (311.2,5.1) (312.6,5.3) (314,4.9) (315.4,5.0) (316.8,4.6) (318.2,4.7) (319.6,4.2) (321,4.4) (322.4,3.6) (323.8,3.9) (325.2,3.0) (326.6,3.4) (328,2.4) (329.4,2.9) (330.8,1.9) (332.2,2.5) (333.6,1.6) (335,2.6) (336.4,2.2) (337.8,3.0) (339.2,2.6) (340.6,3.4) (342,3.0) (343.4,3.8) (344.8,3.4) (346.2,4.2) (347.6,3.8) (349,4.4) (350.4,3.9) (351.8,4.5) (353.2,3.8) (354.6,4.3) (356,3.7) (357.4,4.1) (358.8,3.5) (360.2,3.9) (361.6,3.4) (363,3.8) (364.4,3.4) (365.8,3.9) (367.2,3.5) (368.6,3.9) (370,3.4) (371.4,3.8) (372.8,3.4) (374.2,3.7) (375.6,3.9) (376.4,4.2)
};
\end{axis}

% ---------------- panel c, inset (July 2011, Netarts Bay) ----------------
\begin{axis}[lefty, at={(389pt,15pt)}, width=180pt, height=93pt,
  xmin=2.98, xmax=13.98, ymin=200, ymax=800,
  xtick={4,7,10,13}, xticklabels={July 4,July 7,July 10,July 13},
  x tick label style={yshift=-3pt},
  minor xtick={3,5,6,8,9,11,12},
  ytick={200,400,600,800}, yticklabels={200,400,600,800}, minor ytick={300,500,700},
  ylabel={\textit{p}CO\textsubscript{2} (µatm)}]
\addplot[aBlue, line width=0.7pt] coordinates {
(3.23,461) (3.29,488) (3.34,429) (3.40,365) (3.47,301) (3.52,248) (3.60,291) (3.67,312) (3.74,280) (3.83,291) (3.93,269) (4.03,365) (4.13,429) (4.23,461) (4.32,408) (4.39,344) (4.49,259) (4.59,291) (4.69,280) (4.80,301) (4.90,344) (5.00,387) (5.10,482) (5.20,514) (5.31,525) (5.36,472) (5.41,387) (5.48,301) (5.56,259) (5.63,301) (5.71,323) (5.82,365) (5.92,387) (6.02,450) (6.12,493) (6.22,520) (6.33,482) (6.43,323) (6.53,280) (6.63,259) (6.73,323) (6.84,365) (6.94,397) (7.04,450) (7.14,493) (7.21,472) (7.30,536) (7.38,472) (7.45,344) (7.55,248) (7.65,323) (7.76,365) (7.86,387) (7.96,418) (8.06,482) (8.13,514) (8.19,664) (8.23,791) (8.28,610) (8.34,504) (8.42,493) (8.52,450) (8.62,387) (8.69,280) (8.78,387) (8.88,450) (8.98,472) (9.08,493) (9.18,557) (9.26,674) (9.32,642) (9.39,578) (9.49,472) (9.59,365) (9.69,312) (9.80,344) (9.90,387) (10.00,450) (10.10,493) (10.20,536) (10.31,493) (10.41,408) (10.51,344) (10.61,291) (10.71,248) (10.82,323) (10.92,429) (11.02,482) (11.12,461) (11.22,557) (11.27,621) (11.36,536) (11.46,450) (11.56,344) (11.66,269) (11.77,344) (11.87,408) (11.97,429) (12.07,418) (12.19,429) (12.28,546) (12.35,450) (12.42,493) (12.50,387) (12.60,323) (12.70,269) (12.81,323) (12.91,344) (13.01,355) (13.11,365) (13.21,387) (13.31,546) (13.36,387) (13.44,450) (13.52,472) (13.57,301) (13.62,259)
};
\end{axis}
\begin{axis}[righty, at={(389pt,15pt)}, width=180pt, height=93pt,
  xmin=2.98, xmax=13.98, ymin=10, ymax=20,
  ytick={10,13.333,16.667,20}, yticklabels={10,14,18,20},
  minor ytick={11.667,15,18.333},
  ylabel={SST (°C)}]
\addplot[iRed, line width=0.6pt] coordinates {
(3.23,12.58) (3.32,13.46) (3.42,14.35) (3.52,14.53) (3.59,12.75) (3.67,13.0) (3.93,12.75) (4.01,14.09) (4.08,12.22) (4.23,12.75) (4.39,14.35) (4.49,15.06) (4.57,15.86) (4.62,13.64) (4.74,13.55) (5.00,13.46) (5.05,12.40) (5.10,10.98) (5.26,11.33) (5.41,13.46) (5.51,14.71) (5.58,15.24) (5.63,12.84) (5.87,12.66) (6.12,12.66) (6.15,10.27) (6.33,10.18) (6.48,12.04) (6.53,14.17) (6.60,15.24) (6.66,12.40) (6.99,12.40) (7.19,10.0) (7.30,10.62) (7.45,12.40) (7.55,13.46) (7.60,11.51) (7.91,11.51) (8.11,11.69) (8.34,10.98) (8.47,10.62) (8.67,11.69) (8.72,13.82) (8.78,10.27) (9.03,10.44) (9.23,10.80) (9.44,11.15) (9.64,11.69) (9.71,13.37) (9.78,11.51) (10.05,11.86) (10.26,12.40) (10.51,12.40) (10.71,12.75) (10.77,13.82) (10.82,10.80) (11.07,11.15) (11.27,11.86) (11.48,12.04) (11.63,12.40) (11.79,13.64) (11.87,10.98) (12.09,11.51) (12.30,12.22) (12.50,12.58) (12.76,12.93) (12.86,14.17) (12.91,12.22) (13.11,12.75) (13.31,13.82) (13.47,14.53) (13.62,14.53)
};
\end{axis}
\end{tikzpicture}
\end{document}
